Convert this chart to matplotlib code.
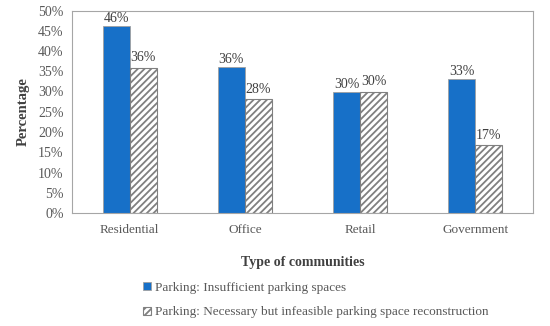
import matplotlib.pyplot as plt
import numpy as np

plt.rcParams['font.family'] = ['Liberation Serif', 'DejaVu Serif']

categories = ["Residential", "Office", "Retail", "Government"]
insufficient = [46.2, 36.0, 30.0, 33.2]
infeasible = [35.9, 28.1, 30.0, 16.7]
labels_a = ["46%", "36%", "30%", "33%"]
labels_b = ["36%", "28%", "30%", "17%"]
series_names = ["Parking: Insufficient parking spaces",
                "Parking: Necessary but infeasible parking space reconstruction"]

fig = plt.figure(figsize=(5.5, 3.26), dpi=100)
ax = fig.add_axes([72/550, 1 - 213/326, 461/550, 202.5/326])

x = np.arange(len(categories))
w = 0.235
b1 = ax.bar(x - w/2, insufficient, w, color="#1770c8", edgecolor="#a0a0a0", linewidth=0.6,
            label=series_names[0])
plt.rcParams['hatch.color'] = "#808080"
plt.rcParams['hatch.linewidth'] = 1.3
b2 = ax.bar(x + w/2, infeasible, w, color="white", edgecolor="#808080", linewidth=0.8,
            hatch="/////", label=series_names[1])

for i in range(len(categories)):
    ax.text(x[i] - w/2, insufficient[i] + 0.2, labels_a[i], ha="center", va="bottom",
            fontsize=10, color="#404040")
    ax.text(x[i] + w/2, infeasible[i] + 0.8, labels_b[i], ha="center", va="bottom",
            fontsize=10, color="#404040")

ax.set_xlim(-0.5, 3.5)
ax.set_ylim(0, 50)
ax.set_yticks(range(0, 51, 5))
ax.set_yticklabels([f"{v}%" for v in range(0, 51, 5)])
ax.set_xticks(x)
ax.set_xticklabels(categories)
ax.tick_params(length=0, labelsize=9.5, colors="#595959")
ax.tick_params(axis="x", pad=8)
ax.tick_params(axis="y", labelsize=10, pad=6)
for s in ax.spines.values():
    s.set_color("#a6a6a6")
    s.set_linewidth(0.8)

ax.set_xlabel("Type of communities", fontsize=10, fontweight="bold", color="#404040", labelpad=14)
ax.set_ylabel("Percentage", fontsize=10.5, fontweight="bold", color="#404040", labelpad=6)

fig.legend(handles=[b1, b2], loc="upper left", bbox_to_anchor=(131/550, 1 - 270/326),
           frameon=False, fontsize=9.5, labelcolor="#595959", labelspacing=0.95,
           handlelength=0.6, handleheight=0.6, handletextpad=0.3)

fig.savefig("out.png", dpi=100)
